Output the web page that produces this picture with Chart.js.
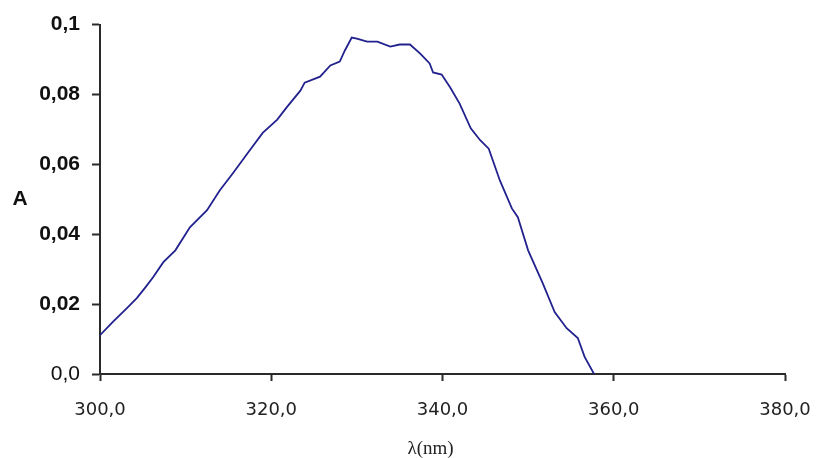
<!DOCTYPE html>
<html>
<head>
<meta charset="utf-8">
<script src="https://cdn.jsdelivr.net/npm/chart.js@4/dist/chart.umd.min.js"></script>
<style>
  html, body { margin: 0; padding: 0; background: #fff; }
  #wrap { width: 817px; height: 458px; }
</style>
</head>
<body>
<div id="wrap"><canvas id="spectrum"></canvas></div>
<script>
// absorption spectrum, wavelength in nm
const wavelengths = [
    300.0, 301.5, 303.0, 304.3, 305.3, 306.2, 307.4, 308.8, 310.5, 312.5,
    314.0, 315.5, 317.3, 319.0, 320.7, 321.8, 323.4, 323.9, 325.7, 326.9,
    328.0, 328.6, 329.4, 330.0, 331.2, 332.4, 333.9, 335.0, 336.2, 337.4,
    338.5, 338.9, 339.9, 340.9, 342.0, 343.3, 344.4, 345.4, 346.7, 348.1,
    348.8, 350.0, 351.7, 353.1, 354.5, 355.8, 356.6, 357.7
];
const absorbance = [
    0.0111, 0.0149, 0.0185, 0.0217, 0.0248, 0.0277, 0.0320, 0.0354, 0.0420, 0.0469,
    0.0526, 0.0574, 0.0634, 0.0690, 0.0728, 0.0763, 0.0811, 0.0834, 0.0851, 0.0883,
    0.0894, 0.0926, 0.0963, 0.0960, 0.0951, 0.0951, 0.0937, 0.0943, 0.0943, 0.0917,
    0.0889, 0.0863, 0.0857, 0.0820, 0.0774, 0.0703, 0.0669, 0.0645, 0.0554, 0.0474,
    0.0449, 0.0354, 0.0260, 0.0177, 0.0131, 0.0103, 0.0049, 0.0000
];
const xTicks = [300, 320, 340, 360, 380];
const yTicks = [0, 0.02, 0.04, 0.06, 0.08, 0.1];

const AXIS_COLOR = '#2a2a2a';

// upright "A" beside the y axis, "λ(nm)" under the x axis
const axisNames = {
    id: 'axisNames',
    afterDraw(chart) {
        const ctx = chart.ctx;
        const area = chart.chartArea;
        ctx.save();
        ctx.textAlign = 'center';
        ctx.textBaseline = 'middle';
        ctx.font = 'bold 21px "Liberation Sans", Arial, sans-serif';
        ctx.fillStyle = '#111';
        ctx.fillText('A', 20, (area.top + area.bottom) / 2);
        ctx.font = '19px "Liberation Serif", "Times New Roman", serif';
        ctx.fillStyle = '#222';
        ctx.fillText('λ(nm)', (area.left + area.right) / 2 - 12, area.bottom + 75);
        ctx.restore();
    }
};

const points = wavelengths.map((w, i) => ({x: w, y: absorbance[i]}));

new Chart(document.getElementById('spectrum'), {
    type: 'line',
    data: {
        datasets: [{
            data: points,
            borderColor: '#22228f',
            borderWidth: 1.8,
            pointRadius: 0,
            tension: 0,
            fill: false
        }]
    },
    options: {
        responsive: true,
        maintainAspectRatio: false,
        animation: false,
        layout: {
            padding: {top: 24, right: 32, left: 0, bottom: 0}
        },
        plugins: {
            legend: {display: false},
            tooltip: {enabled: false}
        },
        scales: {
            x: {
                type: 'linear',
                min: 300,
                max: 380,
                afterBuildTicks: scale => {
                    scale.ticks = xTicks.map(v => ({value: v}));
                },
                afterFit: scale => {
                    scale.height = 84;
                    scale.paddingLeft = 0;
                    scale.paddingRight = 0;
                },
                border: {display: true, color: AXIS_COLOR, width: 2},
                grid: {
                    drawOnChartArea: false,
                    drawTicks: true,
                    tickLength: 7,
                    tickWidth: 2,
                    color: AXIS_COLOR
                },
                ticks: {
                    padding: 19,
                    maxRotation: 0,
                    color: '#222',
                    font: {family: '"DejaVu Sans", Tahoma, sans-serif', size: 18},
                    callback: v => v.toFixed(1).replace('.', ',')
                }
            },
            y: {
                min: 0,
                max: 0.1,
                afterBuildTicks: scale => {
                    scale.ticks = yTicks.map(v => ({value: v}));
                },
                afterFit: scale => {
                    scale.width = 100;
                },
                border: {display: true, color: AXIS_COLOR, width: 2},
                grid: {
                    drawOnChartArea: false,
                    drawTicks: true,
                    tickLength: 8,
                    tickWidth: 2,
                    color: AXIS_COLOR
                },
                ticks: {
                    padding: 12,
                    color: '#111',
                    font: ctx => ({
                        family: '"Liberation Sans", Arial, sans-serif',
                        size: 21,
                        weight: ctx.tick && ctx.tick.value === 0 ? 'normal' : 'bold'
                    }),
                    callback: v => v === 0 ? '0,0' : String(Number(v.toFixed(2))).replace('.', ',')
                }
            }
        }
    },
    plugins: [axisNames]
});
</script>
</body>
</html>
